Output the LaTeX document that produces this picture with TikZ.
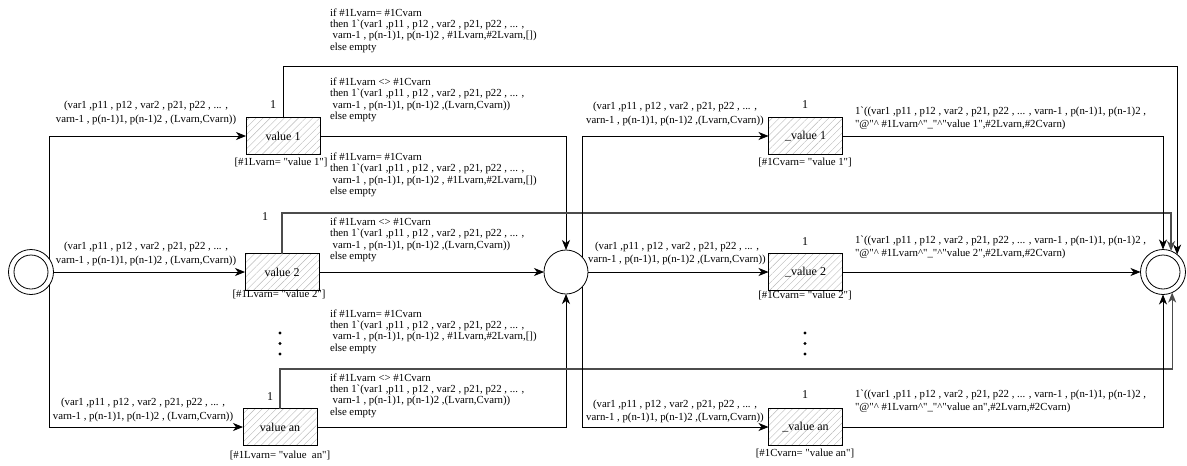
\documentclass[tikz,border=0pt]{standalone}
\usepackage{fontspec}
\setmainfont{Liberation Serif}[Ligatures=TeXOff]
\usetikzlibrary{arrows.meta,patterns.meta,calc}

% repeated inscriptions
\newcommand{\tokin}[1]{(var1 ,p11 , p12 , var2 , p21, p22 , ... ,\\varn-1 , p(n-1)1, p(n-1)2 ,#1(Lvarn,Cvarn))}
\newcommand{\guardsame}{if \#1Lvarn= \#1Cvarn\\then 1`(var1 ,p11 , p12 , var2 , p21, p22 , ... ,\\\hspace*{2.7pt}varn-1 , p(n-1)1, p(n-1)2 , \#1Lvarn,\#2Lvarn,[])\\else empty}
\newcommand{\guarddiff}{if \#1Lvarn <> \#1Cvarn\\then 1`(var1 ,p11 , p12 , var2 , p21, p22 , ... ,\\\hspace*{2.7pt}varn-1 , p(n-1)1, p(n-1)2 ,(Lvarn,Cvarn))\\else empty}
\newcommand{\tokout}[1]{1`((var1 ,p11 , p12 , var2 , p21, p22 , ... , varn-1 , p(n-1)1, p(n-1)2 ,\\"@"\textasciicircum{} \#1Lvarn\textasciicircum"\_"\textasciicircum"#1",\#2Lvarn,\#2Cvarn)}

\begin{document}
\begin{tikzpicture}[x=1pt,y=-1pt,
  every node/.style={inner sep=0pt, outer sep=0pt},
  txt/.style={font=\fontsize{10.8}{13.3}\selectfont, align=center},
  lefttxt/.style={font=\fontsize{10.8}{12.8}\selectfont, align=left, anchor=west},
  guard/.style={font=\fontsize{10.8}{11.4}\selectfont, align=left, anchor=west},
  num/.style={font=\fontsize{12}{14}\selectfont},
  trans/.style={draw, line width=0.8pt, minimum width=74pt, minimum height=37pt,
    pattern={Lines[angle=45,distance=5pt,line width=0.4pt]}, pattern color=black!28,
    font=\fontsize{12}{14}\selectfont},
  place/.style={draw, circle, line width=0.8pt, fill=white, minimum size=45pt},
  arc/.style={draw, line width=0.8pt, -{Stealth[length=10pt,width=8pt,inset=3pt]}},
  wide/.style={arc, draw=black!70, line width=1.2pt},
]
\useasboundingbox (0,0) rectangle (1187,466);

% places
\node[place] (start) at (31,272) {};
\draw[line width=0.8pt] (start.center) circle[radius=17pt];
\node[place, minimum size=44pt] (mid) at (566,272) {};
\node[place] (fin) at (1163,272) {};
\draw[line width=0.8pt] (fin.center) circle[radius=17pt];

% transitions, first stage
\node[trans] (v1) at (283,136) {value 1};
\node[trans] (v2) at (282,272) {value 2};
\node[trans] (van) at (280,427) {value an};

% transitions, second stage
\node[trans] (cv1) at (805.5,136) {\_value 1};
\node[trans] (cv2) at (805.5,272) {\_value 2};
\node[trans] (cvan) at (805.5,427) {\_value an};

% priorities
\node[num] (p1) at (273,105) {1};
\node[num] (p2) at (265,217) {1};
\node[num] (pan) at (270,397) {1};
\node[num] (q1) at (805,105) {1};
\node[num] (q2) at (805,242) {1};
\node[num] (qan) at (805,395) {1};

% guards of the transitions
\node[txt] (g1) at (281,162) {[\#1Lvarn= "value 1"]};
\node[txt] (g2) at (279,294) {[\#1Lvarn= "value 2"]};
\node[txt] (gan) at (280,455) {[\#1Lvarn= "value\ \ an"]};
\node[txt] (h1) at (805,162) {[\#1Cvarn= "value 1"]};
\node[txt] (h2) at (805,295) {[\#1Cvarn= "value 2"]};
\node[txt] (han) at (805,453) {[\#1Cvarn= "value an"]};

% vertical dots
\foreach \yy in {333,343.5,354}{
  \fill (280,\yy) circle[radius=1.6pt];
  \fill (805,\yy) circle[radius=1.6pt];
}

% arcs from the start place
\draw[arc] (start.36.87) |- (v1.west);
\draw[arc] (start.east) -- (v2.west);
\draw[arc] (start.-36.87) |- (van.west);

% arcs into the middle place
\draw[arc] (v1.east) -| (mid.north);
\draw[arc] (v2.east) -- (mid.west);
\draw[arc] (van.east) -| (mid.south);

% arcs from the first stage straight to the end place
\draw[arc] (v1.north) -- ++(0,-51.5) -| (fin.51.5);
\draw[wide] (v2.north) -- ++(0,-40.5) -| (fin.69.2);
\draw[wide] (van.north) -- ++(0,-39.5) -| (fin.-66.4);

% arcs from the middle place
\draw[arc] (mid.43.3) |- (cv1.west);
\draw[arc] (mid.east) -- (cv2.west);
\draw[arc] (mid.-43.3) |- (cvan.west);

% arcs into the end place
\draw[arc] (cv1.east) -| (fin.north);
\draw[arc] (cv2.east) -- (fin.west);
\draw[arc] (cvan.east) -| (fin.south);

% arc inscriptions, left
\node[txt] (a1) at (146,113) {\tokin{ }};
\node[txt] (a2) at (146,254) {\tokin{ }};
\node[txt] (aan) at (143,410) {\tokin{ }};

% arc inscriptions, guarded outputs
\node[guard] (e1) at (330,30.5) {\guardsame};
\node[guard] (d1) at (330,100) {\guarddiff};
\node[guard] (e2) at (330,175) {\guardsame};
\node[guard] (d2) at (330,240) {\guarddiff};
\node[guard] (ean) at (330,331.5) {\guardsame};
\node[guard] (dan) at (330,395.5) {\guarddiff};

% arc inscriptions, middle
\node[txt] (b1) at (675,114) {\tokin{}};
\node[txt] (b2) at (677,253.5) {\tokin{}};
\node[txt] (ban) at (675,411.5) {\tokin{}};

% arc inscriptions, right
\node[lefttxt] (c1) at (855,118.5) {\tokout{value 1}};
\node[lefttxt] (c2) at (855,247) {\tokout{value 2}};
\node[lefttxt] (can) at (855,401.5) {\tokout{value an}};
\end{tikzpicture}
\end{document}
